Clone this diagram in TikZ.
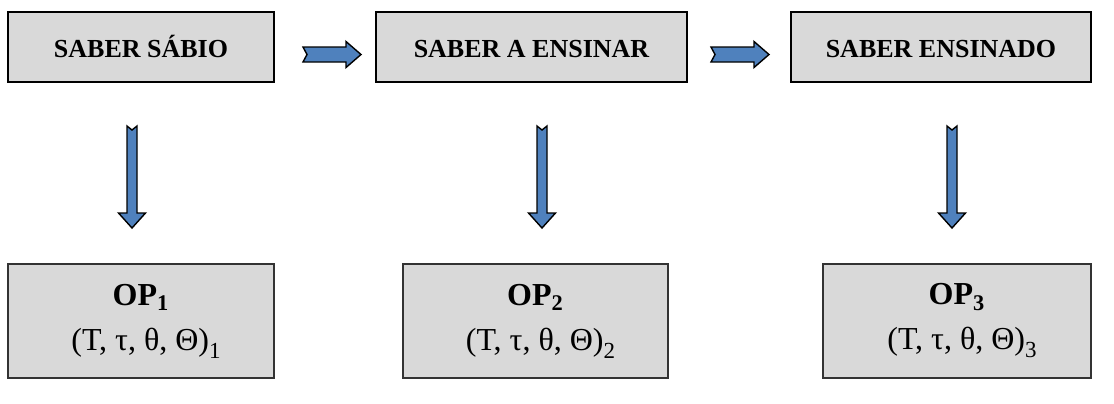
\documentclass[tikz,border=0pt]{standalone}
\usepackage{fontspec}
\setmainfont{Liberation Serif}
\usepackage{tikz}
\usetikzlibrary{calc}

\definecolor{boxgray}{RGB}{217,217,217}
\definecolor{arrowblue}{RGB}{79,129,189}

\newcommand{\tuplesub}[1]{\raisebox{-4pt}{\fontsize{11.5}{11.5}\selectfont #1}}

\begin{document}
\begin{tikzpicture}[x=0.5pt, y=-0.5pt,
		topbox/.style={draw=black, line width=1.2pt, fill=boxgray, minimum height=35pt, inner sep=0pt, text height=10.5pt, text depth=0pt, font=\fontsize{13}{15}\selectfont\bfseries},
		opbox/.style={draw=black!80, line width=1.2pt, fill=boxgray, minimum height=57pt, inner sep=0pt, align=center, font=\fontsize{16}{22.5}\selectfont},
		blockfill/.style={draw=black, line width=0.7pt, fill=arrowblue, line join=miter},
		rightarrow/.pic={\draw[blockfill] (0,-7.5) -- (43,-7.5) -- (43,-13) -- (58,0) -- (43,13) -- (43,7.5) -- (0,7.5) -- (4,0) -- cycle;},
		downarrow/.pic={\draw[blockfill] (-5,0) -- (-5,87) -- (-13.5,87) -- (0,102) -- (13.5,87) -- (5,87) -- (5,0) -- (0,4) -- cycle;}]
		
		% Fix the page size
		\useasboundingbox (0,0) rectangle (1114,403);
		
		% Draw the three kinds of knowledge
		\node[topbox, minimum width=133pt] (sabio) at (141,47) {SABER SÁBIO};
		\node[topbox, minimum width=155.5pt] (aensinar) at (531.5,47) {SABER A ENSINAR};
		\node[topbox, minimum width=150pt] (ensinado) at (941,47) {SABER ENSINADO};
		
		% Draw the praxeologies below them
		\node[opbox, minimum width=133pt] (op1) at (141,321) {\textbf{OP\textsubscript{1}}\\\hspace*{5pt}(T, τ, θ, Θ)\tuplesub{1}};
		\node[opbox, minimum width=132.5pt] (op2) at (535.5,321) {\textbf{OP\textsubscript{2}}\\\hspace*{5pt}(T, τ, θ, Θ)\tuplesub{2}};
		\node[opbox, minimum width=134pt] (op3) at (957,321) {\textbf{OP\textsubscript{3}}\\\hspace*{5pt}(T, τ, θ, Θ)\tuplesub{3}};
		
		% Mark the tails of the block arrows
		\coordinate (right1) at (303,54.5);
		\coordinate (right2) at (711,54.5);
		\coordinate (down1) at (132,126);
		\coordinate (down2) at (542,126);
		\coordinate (down3) at (952,126);
		
		% Draw the block arrows
		\pic at (right1) {rightarrow};
		\pic at (right2) {rightarrow};
		\pic at (down1) {downarrow};
		\pic at (down2) {downarrow};
		\pic at (down3) {downarrow};
		
	\end{tikzpicture}
\end{document}
